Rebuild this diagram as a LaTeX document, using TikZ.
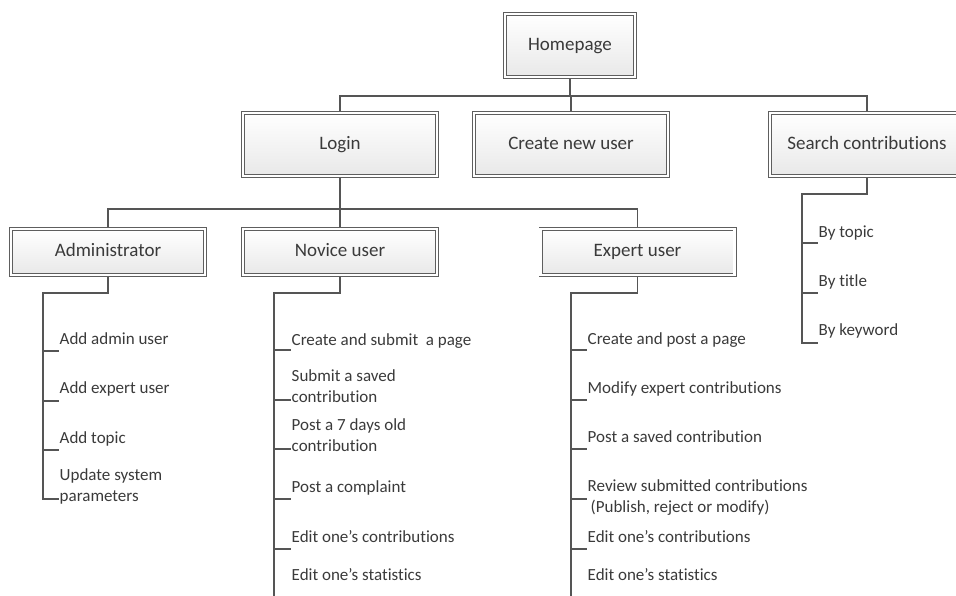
\documentclass[tikz,border=0pt]{standalone}
\usepackage{fontspec}
\setmainfont{Carlito}[Ligatures=NoCommon]
\usetikzlibrary{shadows,backgrounds}
\definecolor{linec}{HTML}{555555}
\definecolor{boxline}{HTML}{5E5E5E}
\definecolor{txt}{HTML}{3A3A3A}
\newcommand\leaffont{\fontsize{17}{21}\selectfont}
\newcommand\boxfont{\fontsize{19}{23}\selectfont}
\begin{document}
\begin{tikzpicture}[x=1pt,y=-1pt,
  menubox/.style={draw=boxline, line width=0.9pt, double=white, double distance=2.2pt,
    top color=white, bottom color=black!9, font=\boxfont, text=txt, inner sep=0pt,
    text height=13pt, text depth=3pt,
    drop shadow={shadow xshift=1.5pt, shadow yshift=-1.5pt, opacity=0.18, fill=black}},
  homebox/.style={minimum width=130pt, minimum height=63pt},
  bigbox/.style={minimum width=194pt, minimum height=63pt},
  rolebox/.style={minimum width=194pt, minimum height=46pt},
  leaf/.style={anchor=west, inner xsep=0.5pt, inner ysep=0pt, align=left,
    font=\leaffont, text=txt, execute at begin node=\strut},
  conn/.style={draw=linec, line width=1.05pt}]
\useasboundingbox (0,0) rectangle (956,596);

% boxes
\node[menubox, homebox] (home) at (570,45.5) {Homepage};
\node[menubox, bigbox] (login) at (340,144.5) {Login};
\node[menubox, bigbox] (create) at (571,144.5) {Create new user};
\node[menubox, bigbox] (search) at (867,144.5) {Search contributions};
\node[menubox, rolebox] (admin) at (108,252) {Administrator};
\node[menubox, rolebox] (novice) at (340,252) {Novice user};
\node[menubox, rolebox] (expert) at (637.5,252) {Expert user};

% junctions and tick ends
\coordinate (j1) at (570,96);
\coordinate (j2) at (340,209);
\coordinate (ab) at (43,293);
\coordinate (a1t) at (59,351);
\coordinate (a2t) at (59,401);
\coordinate (a3t) at (59,450);
\coordinate (a4t) at (59,499);
\coordinate (nb) at (274,293);
\coordinate (n1t) at (291,350);
\coordinate (n2t) at (291,400);
\coordinate (n3t) at (291,449);
\coordinate (n4t) at (291,499);
\coordinate (n5t) at (291,549);
\coordinate (nend) at (274,597);
\coordinate (eb) at (571,293);
\coordinate (e1t) at (587,350);
\coordinate (e2t) at (587,400);
\coordinate (e3t) at (587,449);
\coordinate (e4t) at (587,499);
\coordinate (e5t) at (587,549);
\coordinate (eend) at (571,597);
\coordinate (sb) at (802,194);
\coordinate (s1t) at (818,243);
\coordinate (s2t) at (818,293);
\coordinate (s3t) at (818,343);

% leaves
\node[leaf] (a1) at (59,340) {Add admin user};
\node[leaf] (a2) at (59,389) {Add expert user};
\node[leaf] (a3) at (59,439) {Add topic};
\node[leaf] (a4) at (59,488.5) {Update system\\\strut parameters};

\node[leaf] (n1) at (291,341) {Create and submit~\ a page};
\node[leaf] (n2) at (291,389.5) {Submit a saved\\\strut contribution};
\node[leaf] (n3) at (291,438.5) {Post a 7 days old\\\strut contribution};
\node[leaf] (n4) at (291,488) {Post a complaint};
\node[leaf] (n5) at (291,538) {Edit one’s contributions};
\node[leaf] (n6) at (291,576) {Edit one’s statistics};

\node[leaf] (e1) at (587,340) {Create and post a page};
\node[leaf] (e2) at (587,389) {Modify expert contributions};
\node[leaf] (e3) at (587,438) {Post a saved contribution};
\node[leaf] (e4) at (587,499) {Review submitted contributions\\\strut\hspace*{3pt}(Publish, reject or modify)};
\node[leaf] (e5) at (587,538) {Edit one’s contributions};
\node[leaf] (e6) at (587,576) {Edit one’s statistics};

\node[leaf] (s1) at (818,233) {By topic};
\node[leaf] (s2) at (818,282) {By title};
\node[leaf] (s3) at (818,331) {By keyword};

% connectors
\begin{scope}[on background layer]
\draw[conn] (home.south) -- (j1);
\draw[conn] (login.north) |- (j1) -| (search.north);
\draw[conn] (create.north) -- (create.north |- j1);
\draw[conn] (login.south) -- (novice.north);
\draw[conn] (admin.north) |- (j2) -| (expert.north);

\draw[conn] (admin.south) |- (ab) -- (ab |- a4t) -- (a4t);
\foreach \t in {a1t,a2t,a3t} \draw[conn] (ab |- \t) -- (\t);

\draw[conn] (novice.south) |- (nb) -- (nend);
\foreach \t in {n1t,n2t,n3t,n4t,n5t} \draw[conn] (nb |- \t) -- (\t);

\draw[conn] (expert.south) |- (eb) -- (eend);
\foreach \t in {e1t,e2t,e3t,e4t,e5t} \draw[conn] (eb |- \t) -- (\t);

\draw[conn] (search.south) |- (sb) -- (sb |- s3t) -- (s3t);
\foreach \t in {s1t,s2t} \draw[conn] (sb |- \t) -- (\t);
\end{scope}
\end{tikzpicture}
\end{document}
